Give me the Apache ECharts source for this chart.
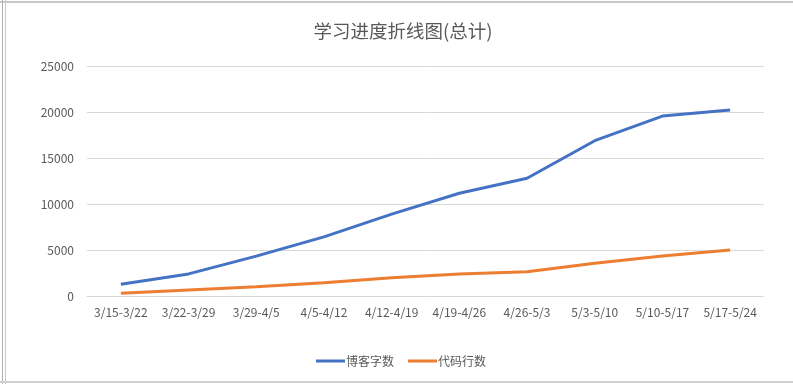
<!DOCTYPE html>
<html><head><meta charset="utf-8">
<script src="https://cdn.jsdelivr.net/npm/echarts@6/dist/echarts.min.js"></script>
<style>html,body{margin:0;padding:0;background:#fff}#c{width:793px;height:384px}</style>
</head><body><div id="c"></div>
<script>
const categories = ['3/15-3/22','3/22-3/29','3/29-4/5','4/5-4/12','4/12-4/19','4/19-4/26','4/26-5/3','5/3-5/10','5/10-5/17','5/17-5/24'];
const blogWords = [1280, 2400, 4330, 6430, 8900, 11170, 12800, 16880, 19560, 20220];
const codeLines = [300, 650, 1010, 1450, 1990, 2390, 2640, 3550, 4350, 5000];
const yTicks = [0, 5000, 10000, 15000, 20000, 25000];
const font = '"Noto Sans CJK SC", "Microsoft YaHei", sans-serif';
const chart = echarts.init(document.getElementById('c'));
chart.setOption({
  animation: false,
  title: { text: '学习进度折线图(总计)', left: 398, textAlign: 'center', top: 17, textStyle: { fontFamily: font, fontSize: 18.5, fontWeight: 'normal', color: '#595959' } },
  grid: { left: 87, right: 29, top: 66, bottom: 88 },
  legend: { bottom: 12, left: 311, itemWidth: 29, itemHeight: 3, itemGap: 14, icon: 'rect',
    textStyle: { fontFamily: font, fontSize: 12, color: '#595959', padding: [0,0,0,-4] },
    data: ['博客字数', '代码行数'] },
  xAxis: { type: 'category', data: categories, boundaryGap: true,
    axisLine: { lineStyle: { color: '#d9d9d9' } }, axisTick: { show: false },
    axisLabel: { fontFamily: font, fontSize: 12, color: '#595959', margin: 10, interval: 0 } },
  yAxis: { type: 'value', min: yTicks[0], max: yTicks[yTicks.length-1], interval: 5000,
    axisLine: { show: false }, axisTick: { show: false },
    splitLine: { lineStyle: { color: '#d9d9d9' } },
    axisLabel: { fontFamily: font, fontSize: 12, color: '#595959', margin: 13, formatter: v => String(v) } },
  series: [
    { name: '博客字数', type: 'line', data: blogWords, symbol: 'none', lineStyle: { width: 3, color: '#4472c4' }, itemStyle: { color: '#4472c4' } },
    { name: '代码行数', type: 'line', data: codeLines, symbol: 'none', lineStyle: { width: 3, color: '#ed7d31' }, itemStyle: { color: '#ed7d31' } }
  ],
  graphic: [
    { type: 'line', shape: { x1: 0, y1: 2, x2: 793, y2: 2 }, style: { stroke: '#c8c8c8', lineWidth: 2 } },
    { type: 'line', shape: { x1: 2.5, y1: 0, x2: 2.5, y2: 384 }, style: { stroke: '#b0b0b0', lineWidth: 1 } },
    { type: 'line', shape: { x1: 5.5, y1: 0, x2: 5.5, y2: 384 }, style: { stroke: '#c8c8c8', lineWidth: 1 } },
    { type: 'line', shape: { x1: 0, y1: 382, x2: 793, y2: 382 }, style: { stroke: '#d0d0d0', lineWidth: 2 } }
  ]
});
</script></body></html>
